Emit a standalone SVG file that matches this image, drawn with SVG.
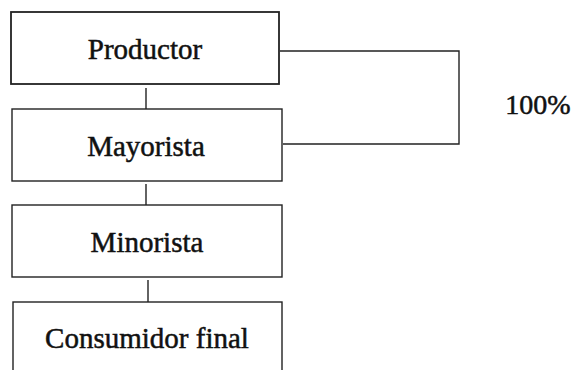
<svg xmlns="http://www.w3.org/2000/svg" width="574" height="370" viewBox="0 0 574 370">
<style>
.box{fill:#fff;stroke:#222;stroke-width:1.4}
.lbl{font-family:"Liberation Serif","Times New Roman",serif;font-size:29px;fill:#111;stroke:#111;stroke-width:0.5;text-anchor:middle}
.con{fill:none;stroke:#222;stroke-width:1.4}
</style>
<rect width="574" height="370" fill="#fff"/>
<g id="connectors">
<path class="con" d="M146,88 V109"/>
<path class="con" d="M146,184 V205"/>
<path class="con" d="M148,280 V302"/>
<path class="con" d="M280,51 H459 V144 H283"/>
</g>
<g id="productor">
<rect class="box" x="11" y="12" width="268" height="72" style="stroke-width:1.8"/>
<text class="lbl" x="145" y="59">Productor</text>
</g>
<g id="mayorista">
<rect class="box" x="12" y="109" width="270" height="72"/>
<text class="lbl" x="146" y="156">Mayorista</text>
</g>
<g id="minorista">
<rect class="box" x="12" y="205" width="270" height="72"/>
<text class="lbl" x="147" y="252">Minorista</text>
</g>
<g id="consumidor">
<rect class="box" x="13" y="302" width="269" height="80"/>
<text class="lbl" x="147" y="348">Consumidor final</text>
</g>
<g id="pct">
<text class="lbl" x="538" y="114" style="font-size:28px">100%</text>
</g>
</svg>
